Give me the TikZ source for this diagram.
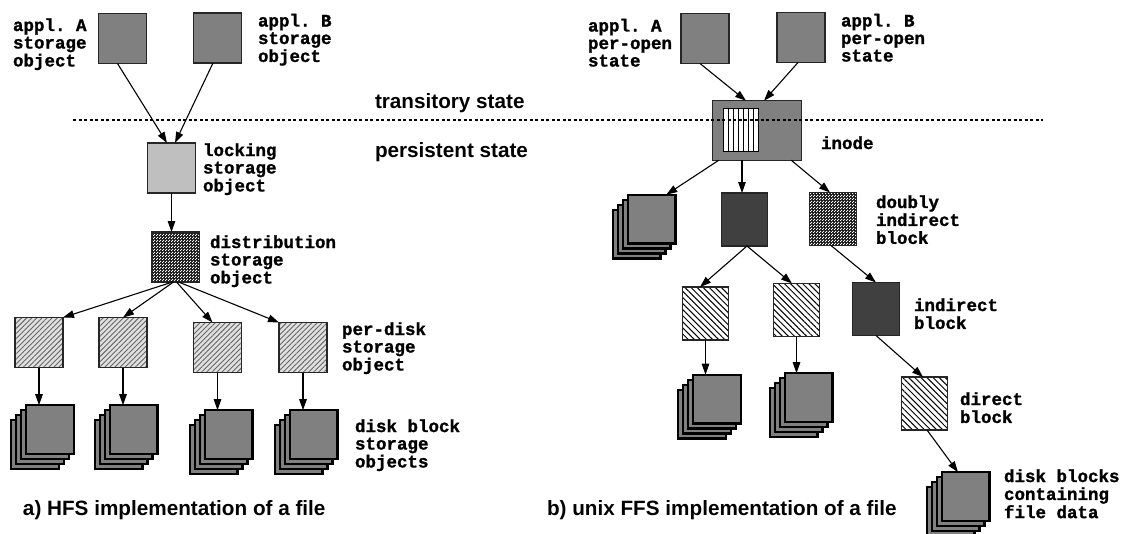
\documentclass[tikz,border=0pt]{standalone}
\usepackage{fontspec}
\setmainfont{Liberation Sans}
\setsansfont{Liberation Sans}
\setmonofont{Liberation Mono}[BoldFeatures={FakeBold=1.3}]
\usetikzlibrary{arrows.meta,patterns,patterns.meta,calc}
\pgfdeclarepatternformonly{fchecker}{\pgfpointorigin}{\pgfqpoint{3pt}{3pt}}{\pgfqpoint{3pt}{3pt}}{%
 \pgfpathrectangle{\pgfqpoint{0.1pt}{0.1pt}}{\pgfqpoint{1.3pt}{1.3pt}}%
 \pgfpathrectangle{\pgfqpoint{1.6pt}{1.6pt}}{\pgfqpoint{1.3pt}{1.3pt}}%
 \pgfusepath{fill}}
\newcommand\mlines[1]{\begin{tabular}[t]{@{}l@{}}#1\end{tabular}}
\newcommand\diskstack[3]{%
 \foreach \k in {3,2,1} {\node[stk] (#1-\k) at ({#2-5*\k},{#3+5*\k}) {};}
 \node[stk] (#1) at (#2,#3) {};}
\tikzset{
 every node/.style={inner sep=0pt, outer sep=0pt},
 box/.style={draw=black!85, line width=1.1pt, minimum width=48pt, minimum height=50pt},
 tbox/.style={draw=black!85, line width=1.1pt, minimum width=46.5pt, minimum height=53pt},
 gbox/.style={box, fill=gray},
 lbox/.style={box, fill=black!25},
 dtall/.style={tbox, fill=black!75},
 chk/.style={box, preaction={fill=black!90}, pattern=fchecker, pattern color=white},
 chktall/.style={tbox, preaction={fill=black!90}, pattern=fchecker, pattern color=white},
 hne/.style={box, preaction={fill=black!12}, pattern={Lines[angle=45,distance=3.6pt,line width=0.9pt]}, pattern color=black!60},
 hnw/.style={tbox, preaction={fill=white}, pattern={Lines[angle=-45,distance=4.3pt,line width=1pt]}, pattern color=black},
 stk/.style={draw=black, line width=2.4pt, fill=gray, minimum width=47.6pt, minimum height=48.6pt},
 arr/.style={-{Triangle[length=11pt,width=7.5pt]}, line width=1.1pt},
 lab/.style={anchor=base west, font=\fontsize{17.5}{17.5}\selectfont\ttfamily\bfseries},
 captxt/.style={anchor=base west, font=\fontsize{20.7}{24}\selectfont\sffamily\bfseries},
}
\begin{document}
\begin{tikzpicture}[x=1pt,y=-1pt]
\useasboundingbox (0,0) rectangle (1122,533);
% ---------- left: HFS ----------
\node[gbox] (aA) at (122.5,38.5) {};
\node[gbox] (aB) at (217.5,38) {};
\node[lbox] (lock) at (171.5,168) {};
\node[chk] (dist) at (175.5,257) {};
\node[hne] (pd1) at (39,342.5) {};
\node[hne] (pd2) at (123,342.5) {};
\node[hne] (pd3) at (217.5,347.5) {};
\node[hne] (pd4) at (303,347.5) {};
\diskstack{s1}{50}{429.5}
\diskstack{s2}{133.5}{429.5}
\diskstack{s3}{228.5}{434.5}
\diskstack{s4}{313.5}{434.5}
\node[lab] (laA) at (13,31) {\mlines{appl. A\\storage\\object}};
\node[lab] (laB) at (258,26.5) {\mlines{appl. B\\storage\\object}};
\node[lab] (llock) at (203,156) {\mlines{locking\\storage\\object}};
\node[lab] (ldist) at (210,248) {\mlines{distribution\\storage\\object}};
\node[lab] (lpd) at (342,335) {\mlines{per-disk\\storage\\object}};
\node[lab] (ldisk) at (355,432) {\mlines{disk block\\storage\\objects}};
\node[captxt] (capA) at (23,515) {a) HFS implementation of a file};
\draw[arr] ([xshift=-5pt]aA.south) -- ([xshift=-4.5pt]lock.north);
\draw[arr] ([xshift=-4.5pt]aB.south) -- ([xshift=3.5pt]lock.north);
\draw[arr] (lock.south) -- (lock.south |- dist.north);
\draw[arr] ([xshift=-3pt]dist.south) -- (pd1.north east);
\draw[arr] ([xshift=-2pt]dist.south) -- (pd2.north);
\draw[arr] ([xshift=1pt]dist.south) -- ([xshift=-5pt]pd3.north);
\draw[arr] ([xshift=3pt]dist.south) -- (pd4.north west);
\draw[arr] (pd1.south) -- (pd1.south |- s1.north);
\draw[arr] (pd2.south) -- (pd2.south |- s2.north);
\draw[arr] (pd3.south) -- (pd3.south |- s3.north);
\draw[arr] (pd4.south) -- (pd4.south |- s4.north);
% ---------- middle ----------
\node[captxt] (trans) at (375,108) {transitory state};
\node[captxt] (pers) at (375,157) {persistent state};
% ---------- right: FFS ----------
\node[gbox] (rA) at (705,38.5) {};
\node[gbox] (rB) at (801,37.5) {};
\node[box, fill=gray, minimum width=88.5pt, minimum height=59.5pt] (inode) at (757,130.5) {};
\node[draw=black, line width=1.1pt, fill=white, minimum width=35pt, minimum height=43pt] (inner) at (741,130) {};
\foreach \f in {1,...,6}
  \draw[line width=1.4pt] ($(inner.north west)!\f/7!(inner.north east)$) -- ($(inner.south west)!\f/7!(inner.south east)$);
\diskstack{rs1}{651.5}{219}
\node[dtall] (dark1) at (744.5,219.5) {};
\node[chktall] (dbl) at (833,219) {};
\node[hnw] (hL) at (705.5,313.5) {};
\node[hnw] (hR) at (796.5,310) {};
\node[dtall] (ind) at (876,309) {};
\node[hnw] (dir) at (924.5,403.5) {};
\diskstack{rs2}{717}{399}
\diskstack{rs3}{808.5}{397.5}
\diskstack{rs4}{965.5}{496.5}
\node[lab] (lrA) at (588,31.5) {\mlines{appl. A\\per-open\\state}};
\node[lab] (lrB) at (841,26.5) {\mlines{appl. B\\per-open\\state}};
\node[lab] (linode) at (821,149) {inode};
\node[lab] (ldbl) at (876,208) {\mlines{doubly\\indirect\\block}};
\node[lab] (lind) at (914,311) {\mlines{indirect\\block}};
\node[lab] (ldir) at (960,405) {\mlines{direct\\block}};
\node[lab] (ldata) at (1004,482) {\mlines{disk blocks\\containing\\file data}};
\node[captxt] (capB) at (547,515) {b) unix FFS implementation of a file};
\draw[arr] ([xshift=-5pt]rA.south) -- ([xshift=-11pt]inode.north);
\draw[arr] ([xshift=-3pt]rB.south) -- ([xshift=7pt]inode.north);
\draw[arr] ([xshift=6pt]inode.south west) -- ([xshift=-9pt]rs1.north east);
\draw[arr] ([xshift=-15pt]inode.south) -- ([xshift=-15pt]inode.south |- dark1.north);
\draw[arr] ([xshift=-10pt]inode.south east) -- ([xshift=-3pt]dbl.north);
\draw[arr] ([xshift=2.5pt]dark1.south) -- ([xshift=-5.5pt]hL.north);
\draw[arr] ([xshift=2.5pt]dark1.south) -- ([xshift=-4.5pt]hR.north);
\draw[arr] ([xshift=-2pt]dbl.south) -- (ind.north);
\draw[arr] (ind.south) -- ([xshift=-1.5pt]dir.north);
\draw[arr] ([xshift=2.5pt]dir.south) -- ([xshift=-7.5pt]rs4.north);
\draw[arr] (hL.south) -- (hL.south |- rs2.north);
\draw[arr] (hR.south) -- (hR.south |- rs3.north);
% ---------- dotted separator ----------
\coordinate (dl) at (73,120);
\coordinate (dr) at (1043,120);
\draw[line width=1.2pt, dash pattern=on 3pt off 2.5pt] (dl) -- (dr);
\end{tikzpicture}
\end{document}
